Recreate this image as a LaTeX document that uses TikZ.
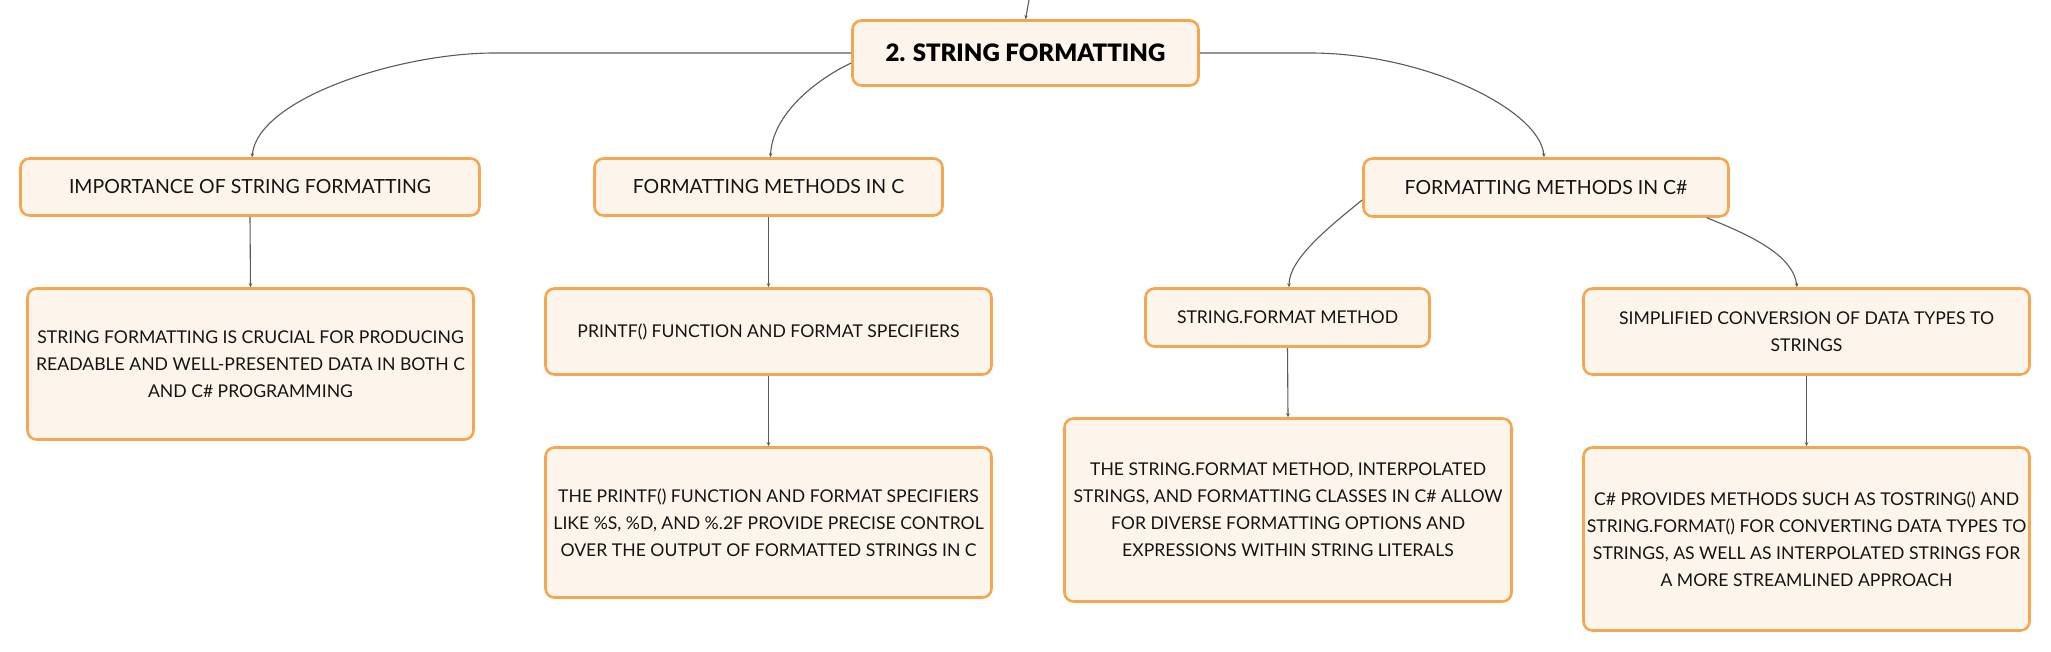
\documentclass[tikz,border=0pt]{standalone}
\usepackage{fontspec}
\setmainfont{Lato}
\newfontfamily\rootfont{Lato Black}
\usetikzlibrary{arrows.meta,calc}
\definecolor{boxfill}{RGB}{253,245,236}
\definecolor{boxline}{RGB}{245,166,80}
\definecolor{connline}{RGB}{90,90,90}
\definecolor{txt}{RGB}{20,20,20}
\tikzset{
  mbox/.style={draw=boxline, fill=boxfill, line width=2.6pt, rounded corners=9pt,
    align=center, text=txt, inner sep=0pt, font=\fontsize{19.5}{27}\selectfont},
  leafbox/.style={mbox, font=\fontsize{17.6}{27}\selectfont},
  rootbox/.style={mbox, text=black, font=\fontsize{24}{28}\selectfont\rootfont},
  conn/.style={draw=connline, line width=1.1pt, -{Stealth[length=4pt,width=3.5pt]}},
}
\begin{document}
\begin{tikzpicture}[x=1pt,y=-1pt]
\useasboundingbox (0,0) rectangle (2051,652);
% nodes
\node[rootbox, minimum width=346pt, minimum height=65pt] (root) at (1025.5,53) {2. STRING FORMATTING};
\node[mbox, minimum width=459pt, minimum height=57pt] (A) at (250,187) {IMPORTANCE OF STRING FORMATTING};
\node[mbox, minimum width=348pt, minimum height=57pt] (B) at (768.5,187) {FORMATTING METHODS IN C};
\node[mbox, minimum width=365pt, minimum height=58pt] (C) at (1546,187.5) {FORMATTING METHODS IN C\#};
\node[leafbox, minimum width=446pt, minimum height=151pt] (A1) at (250.5,364) {STRING FORMATTING IS CRUCIAL FOR PRODUCING\\READABLE AND WELL-PRESENTED DATA IN BOTH C\\AND C\# PROGRAMMING};
\node[leafbox, minimum width=446pt, minimum height=86pt] (B1) at (768.5,331.5) {PRINTF() FUNCTION AND FORMAT SPECIFIERS};
\node[leafbox, minimum width=446pt, minimum height=150pt] (B2) at (768.5,522.5) {THE PRINTF() FUNCTION AND FORMAT SPECIFIERS\\LIKE \%S, \%D, AND \%.2F PROVIDE PRECISE CONTROL\\OVER THE OUTPUT OF FORMATTED STRINGS IN C};
\node[leafbox, minimum width=284pt, minimum height=58pt] (C1) at (1287.5,317.5) {STRING.FORMAT METHOD};
\node[leafbox, minimum width=447pt, minimum height=183pt] (C11) at (1288,510) {THE STRING.FORMAT METHOD, INTERPOLATED\\STRINGS, AND FORMATTING CLASSES IN C\# ALLOW\\FOR DIVERSE FORMATTING OPTIONS AND\\EXPRESSIONS WITHIN STRING LITERALS};
\node[leafbox, minimum width=446pt, minimum height=86pt] (C2) at (1806.5,331.5) {SIMPLIFIED CONVERSION OF DATA TYPES TO\\STRINGS};
\node[leafbox, minimum width=446pt, minimum height=183pt] (C21) at (1806.5,539) {C\# PROVIDES METHODS SUCH AS TOSTRING() AND\\STRING.FORMAT() FOR CONVERTING DATA TYPES TO\\STRINGS, AS WELL AS INTERPOLATED STRINGS FOR\\A MORE STREAMLINED APPROACH};
% connectors
\coordinate (top) at (1029,0);
\draw[conn] (top) -- (root.north);
\draw[conn] (root.west) -- (494,53) .. controls (400,53) and (258,98) .. ($(A.north)+(2,0)$);
\draw[conn] ($(root.west)+(0,10)$) .. controls (815,80) and (772,115) .. ($(B.north)+(2,0)$);
\draw[conn] (root.east) -- (1310,53) .. controls (1425,53) and (1540,110) .. ($(C.north)+(-2,0)$);
\draw[conn] ($(C.west)+(0,12.5)$) .. controls (1325,230) and (1289,260) .. ($(C1.north)+(1.5,0)$);
\draw[conn] ($(C.south east)+(-23,0)$) .. controls (1750,235) and (1793,255) .. ($(C2.north)+(-9.5,0)$);
\draw[conn] (A.south) -- (A1.north);
\draw[conn] (B.south) -- (B1.north);
\draw[conn] (B1.south) -- (B2.north);
\draw[conn] (C1.south) -- (C11.north);
\draw[conn] (C2.south) -- (C21.north);
\end{tikzpicture}
\end{document}
